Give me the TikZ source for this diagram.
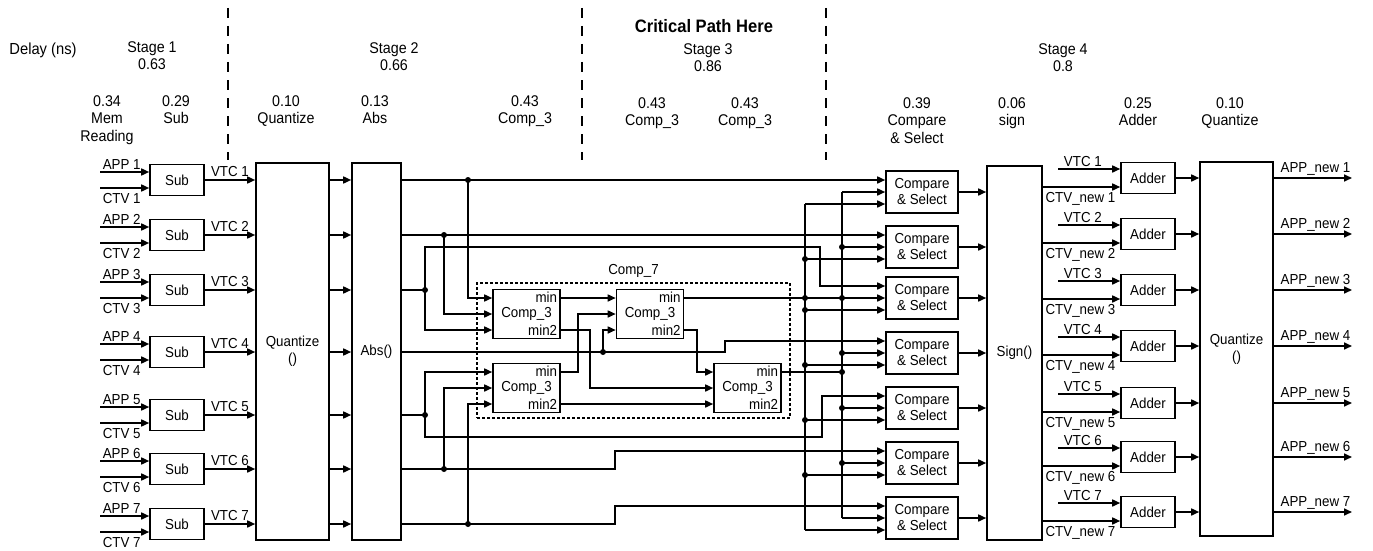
\documentclass[tikz,border=0pt]{standalone}
\usepackage{fontspec}
\setmainfont{Liberation Sans}[FakeStretch=0.92]
\usetikzlibrary{arrows.meta,calc}

\begin{document}
\begin{tikzpicture}[x=1pt,y=-1pt,font=\fontsize{14.5}{17}\selectfont,
        wire/.style={line width=1.6pt},
        arr/.style={wire,-{Triangle[length=8pt,width=7pt]}},
        blk/.style={draw,line width=1.6pt,inner sep=0pt,align=center},
        subbox/.style={blk,minimum width=54pt,minimum height=31pt},
        csbox/.style={blk,minimum width=72pt,minimum height=42pt,font=\fontsize{14.5}{16}\selectfont},
        cmpbox/.style={blk,minimum width=67pt,minimum height=49pt,
            label={[anchor=north east,inner sep=3.5pt]north east:min},
            label={[anchor=south east,inner sep=3.5pt]south east:min2}},
        jn/.style={circle,fill,inner sep=0pt,minimum size=6pt},
        hdr/.style={anchor=north,inner sep=0pt,align=center,font=\fontsize{15.5}{17.5}\selectfont},
        lowlbl/.style={below right,inner sep=2pt,yshift=-3pt},
        stagesep/.style={line width=1.4pt,dash pattern=on 10pt off 8pt}]
    \useasboundingbox (0,0) rectangle (1373,551);

    % intestazione
    \foreach \x in {228,582,826} \draw[stagesep] (\x,8) -- (\x,160);
    \node[font=\fontsize{16}{18}\selectfont] (delay) at (43,50) {Delay (ns)};
    \node[hdr] (st1) at (152,41) {Stage 1\\0.63};
    \node[hdr] (st2) at (394,42) {Stage 2\\0.66};
    \node[hdr,font=\fontsize{18}{20}\selectfont\bfseries] (crit) at (704,19) {Critical Path Here};
    \node[hdr] (st3) at (708,43) {Stage 3\\0.86};
    \node[hdr] (st4) at (1063,43) {Stage 4\\0.8};
    \node[hdr] (d1) at (107,95) {0.34\\Mem\\Reading};
    \node[hdr] (d2) at (176,95) {0.29\\Sub};
    \node[hdr] (d3) at (286,95) {0.10\\Quantize};
    \node[hdr] (d4) at (375,95) {0.13\\Abs};
    \node[hdr] (d5) at (525,95) {0.43\\Comp\_3};
    \node[hdr] (d6) at (652,97) {0.43\\Comp\_3};
    \node[hdr] (d7) at (745,97) {0.43\\Comp\_3};
    \node[hdr] (d8) at (917,97) {0.39\\Compare\\\& Select};
    \node[hdr] (d9) at (1012,97) {0.06\\sign};
    \node[hdr] (d10) at (1138,97) {0.25\\Adder};
    \node[hdr] (d11) at (1230,97) {0.10\\Quantize};

    % blocchi sub
    \foreach \y [count=\i] in {180,235,290,352,415,469,524}{
        \node[subbox] (sub\i) at (177,\y) {Sub};
        \coordinate (app\i) at (100,\y-8);
        \coordinate (ctv\i) at (100,\y+8);
        \draw[arr] (app\i) node[above right,inner sep=2pt]{APP \i} -- (app\i -| sub\i.west);
        \draw[arr] (ctv\i) node[lowlbl]{CTV \i} -- (ctv\i -| sub\i.west);
    }

    % quantize e abs
    \node[blk,minimum width=73pt,minimum height=377pt] (quant) at (292.5,351.5) {Quantize\\()};
    \node[blk,minimum width=49pt,minimum height=377pt] (abs) at (376.5,351.5) {Abs()};
    \foreach \i in {1,...,7}{
        \draw[arr] (sub\i.east) -- node[above,inner sep=3pt]{VTC \i} (sub\i.east -| quant.west);
        \draw[arr] (sub\i.east -| quant.east) -- (sub\i.east -| abs.west);
        \coordinate (r\i) at (sub\i.east -| abs.east);
    }

    % comp_7
    \node[draw,line width=1.4pt,dash pattern=on 3pt off 2pt,minimum width=313pt,minimum height=135pt] (comp7) at (633.5,350.5) {};
    \node[above,inner sep=5pt] (c7lbl) at (comp7.north) {Comp\_7};
    \node[cmpbox] (ca) at (526.5,314) {Comp\_3};
    \node[cmpbox] (cb) at (650,314) {Comp\_3};
    \node[cmpbox] (cc) at (526.5,388) {Comp\_3};
    \node[cmpbox] (cd) at (747.5,388) {Comp\_3};
    \foreach \c in {ca,cb,cc,cd}{
        \coordinate (\c-i1) at ($(\c.west)+(0,-16)$);
        \coordinate (\c-i3) at ($(\c.west)+(0,16)$);
        \coordinate (\c-mn) at ($(\c.east)+(0,-16)$);
        \coordinate (\c-mn2) at ($(\c.east)+(0,16)$);
    }

    % compare & select
    \foreach \y [count=\i] in {192,247,298,353,408,463,518}{
        \node[csbox] (cs\i) at (922,\y) {Compare\\\& Select};
        \coordinate (cs\i-i1) at ($(cs\i.west)+(0,-12)$);
        \coordinate (cs\i-i3) at ($(cs\i.west)+(0,12)$);
    }

    % uscite abs
    \draw[arr] (r1) -- (cs1-i1);
    \node[jn] (j1) at (468,180) {};
    \draw[arr] (j1.center) |- (ca-i1);

    \draw[arr] (r2) -- (cs2-i1);
    \node[jn] (j2) at (444,235) {};
    \draw[arr] (j2.center) |- (ca.west);

    \node[jn] (j3) at (425,290) {};
    \draw[wire] (r3) -- (j3.center);
    \draw[arr] (j3.center) |- (820,247) |- (cs3-i1);
    \draw[arr] (j3.center) |- (ca-i3);

    \node[jn] (j4) at (603,352) {};
    \draw[arr] (r4) -- (725,352) |- (cs4-i1);
    \draw[arr] (j4.center) |- (cb-i3);

    \node[jn] (j5) at (425,415) {};
    \draw[wire] (r5) -- (j5.center);
    \draw[arr] (j5.center) |- (cc-i1);
    \draw[arr] (j5.center) |- (822,437) |- (cs5-i1);

    \node[jn] (j6) at (444,469) {};
    \draw[arr] (r6) -- (615,469) |- (cs6-i1);
    \draw[arr] (j6.center) |- (cc.west);

    \node[jn] (j7) at (468,524) {};
    \draw[arr] (r7) -- (615,524) |- (cs7-i1);
    \draw[arr] (j7.center) |- (cc-i3);

    % dentro comp_7
    \draw[arr] (ca-mn) -- (cb-i1);
    \draw[arr] (ca-mn2) -- (590,330) |- (cd.west);
    \draw[arr] (cc-mn) -- (578,372) |- (cb.west);
    \draw[arr] (cc-mn2) -- (cd-i3);
    \draw[arr] (cb-mn2) -- (697,330) |- (cd-i1);

    % bus min e min2
    \coordinate (mb) at (842,0);
    \coordinate (m2b) at (805,0);
    \node[jn] (jb) at (cb-mn -| m2b) {};
    \draw[wire] (cb-mn) -- (jb.center);
    \node[jn] (jd) at (cd-mn -| mb) {};
    \draw[wire] (cd-mn) -- (jd.center);
    \draw[wire] (cs1.west -| mb) -- (cs7.west -| mb);
    \draw[wire] (cs1-i3 -| m2b) -- (cs7-i3 -| m2b);
    \draw[wire] (jb.center) -- (cs3.west -| mb);
    \foreach \i in {1,...,7}{
        \draw[arr] (cs\i.west -| mb) -- (cs\i.west);
        \draw[arr] (cs\i-i3 -| m2b) -- (cs\i-i3);
    }
    \foreach \i in {2,...,6}{
        \node[jn] (ja\i) at (cs\i.west -| mb) {};
        \node[jn] (jm\i) at (cs\i-i3 -| m2b) {};
    }

    % sign, adder e quantize finale
    \node[blk,minimum width=55pt,minimum height=374pt] (sgn) at (1014.5,353) {Sign()};
    \node[blk,minimum width=73pt,minimum height=374pt] (quantb) at (1236.5,349) {Quantize\\()};
    \foreach \i in {1,...,7} \draw[arr] (cs\i.east) -- (cs\i.east -| sgn.west);
    \foreach \y [count=\i] in {178,234,290,346,403,457,512}{
        \node[subbox] (add\i) at (1148,\y) {Adder};
        \coordinate (vtc\i) at (1058,\y-9);
        \coordinate (cn\i) at ($(sgn.east |- add\i.west)+(0,9)$);
        \coordinate (out\i) at (1352,\y);
        \draw[arr] (vtc\i) -- node[above,inner sep=2pt,pos=0.4]{VTC \i} (vtc\i -| add\i.west);
        \draw[arr] (cn\i) node[lowlbl]{CTV\_new \i} -- (cn\i -| add\i.west);
        \draw[arr] (add\i.east) -- (add\i.east -| quantb.west);
        \draw[arr] (out\i -| quantb.east) node[above right,inner sep=2pt,xshift=4pt]{APP\_new \i} -- (out\i);
    }
\end{tikzpicture}
\end{document}
